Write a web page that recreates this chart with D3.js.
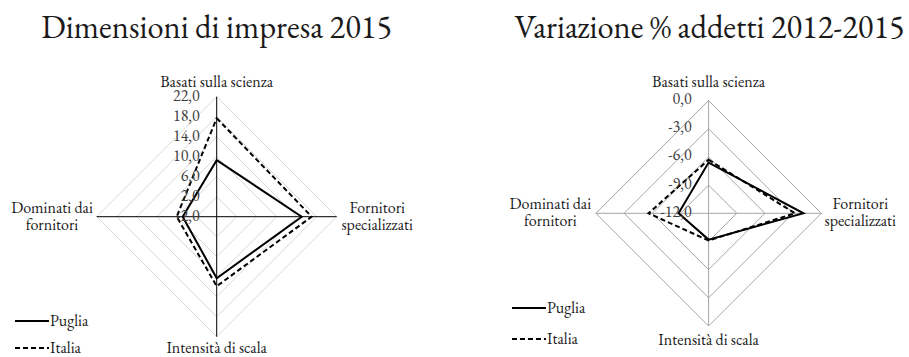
<!DOCTYPE html>
<html><head><meta charset="utf-8">
<script src="https://cdn.jsdelivr.net/npm/d3@7"></script>
<style>
body{margin:0;background:#fff;}
</style></head>
<body><svg id="c" width="909" height="357"></svg>
<script>
const categories = ["Basati sulla scienza","Fornitori specializzati","Intensità di scala","Dominati dai fornitori"];
const seriesNames = ["Puglia","Italia"];
// Chart 1: Dimensioni di impresa 2015
const title1 = "Dimensioni di impresa 2015";
const puglia1 = [9.3, 15.0, 10.3, 4.8];
const italia1 = [17.7, 17.0, 11.9, 6.0];
const ticks1 = [-2, 2, 6, 10, 14, 18, 22];
// Chart 2: Variazione % addetti 2012-2015
const title2 = "Variazione % addetti 2012-2015";
const puglia2 = [-6.6, -1.9, -9.2, -8.8];
const italia2 = [-6.3, -2.8, -9.1, -5.6];
const ticks2 = [-12, -9, -6, -3, 0];

const FONT = "EB Garamond, Liberation Serif, serif";
const svg = d3.select("#c");
const fmt = v => d3.format(".1f")(v).replace(".", ",").replace("−","-");
function txt(sel){ return sel.append("text").attr("font-family",FONT).attr("fill","#1a1a1a"); }

function radar(cfg){
  const g = svg.append("g").attr("transform",`translate(${cfg.cx},${cfg.cy})`);
  const r = d3.scaleLinear().domain([cfg.ticks[0], cfg.ticks[cfg.ticks.length-1]]).range([0,cfg.R]);
  const ang = i => -Math.PI/2 + i*Math.PI/2;
  const pt = (v,i) => [r(v)*Math.cos(ang(i)), r(v)*Math.sin(ang(i))];
  const line = d3.line().curve(d3.curveLinearClosed);
  cfg.ticks.slice(1).forEach(t=>{
    g.append("path").attr("d", line(categories.map((c,i)=>pt(t,i))))
      .attr("fill","none").attr("stroke",cfg.ringColor).attr("stroke-width",1);
  });
  categories.forEach((c,i)=>{
    const p = pt(cfg.ticks[cfg.ticks.length-1], i);
    g.append("line").attr("x1",0).attr("y1",0).attr("x2",p[0]).attr("y2",p[1])
      .attr("stroke",cfg.axisColor).attr("stroke-width",1);
  });
  const styles = [{dash:null},{dash:"5,3"}];
  [cfg.s1,cfg.s2].forEach((s,k)=>{
    g.append("path").attr("d", line(s.map((v,i)=>pt(v,i))))
      .attr("fill","none").attr("stroke","#000").attr("stroke-width",2)
      .attr("stroke-dasharray",styles[k].dash);
  });
  cfg.ticks.forEach(t=>{
    txt(g).attr("x",-17).attr("y",-r(t)+cfg.tickDy).attr("text-anchor","end")
      .attr("font-size",16).attr("fill","#404040").text(fmt(t));
  });
  cfg.labels.forEach((L,i)=>{
    L.lines.forEach((s,j)=>{
      txt(g).attr("x",L.x).attr("y",L.y + j*17).attr("text-anchor","middle")
        .attr("font-size",16).text(s);
    });
  });
  txt(svg).attr("x",cfg.cx+cfg.titleDx).attr("y",38).attr("text-anchor","middle")
    .attr("font-size",32.5).text(cfg.title);
  seriesNames.forEach((n,k)=>{
    const y = cfg.legY + k*cfg.legGap;
    svg.append("line").attr("x1",cfg.legX).attr("x2",cfg.legX+34).attr("y1",y).attr("y2",y)
      .attr("stroke","#000").attr("stroke-width",2).attr("stroke-dasharray",styles[k].dash);
    txt(svg).attr("x",cfg.legX+35).attr("y",y+4.5).attr("font-size",16).text(n);
  });
}

radar({cx:216.7, cy:216.7, R:120, ticks:ticks1, s1:puglia1, s2:italia1, title:title1, titleDx:0, tickDy:4.5,
  ringColor:"#d9d9d9", axisColor:"#000",
  labels:[{x:0,y:-130,lines:["Basati sulla scienza"]},{x:160.5,y:-4,lines:["Fornitori","specializzati"]},
          {x:0,y:136.5,lines:["Intensità di scala"]},{x:-164.7,y:-4,lines:["Dominati dai","fornitori"]}],
  legX:15, legY:321, legGap:27});
radar({cx:708.6, cy:213.3, R:112.7, ticks:ticks2, s1:puglia2, s2:italia2, title:title2, titleDx:1, tickDy:3.5,
  ringColor:"#a6a6a6", axisColor:"#a6a6a6",
  labels:[{x:0,y:-126,lines:["Basati sulla scienza"]},{x:151.7,y:-4.5,lines:["Fornitori","specializzati"]},
          {x:0,y:131.7,lines:["Intensità di scala"]},{x:-158.3,y:-4.5,lines:["Dominati dai","fornitori"]}],
  legX:512, legY:308, legGap:31});
</script></body></html>
